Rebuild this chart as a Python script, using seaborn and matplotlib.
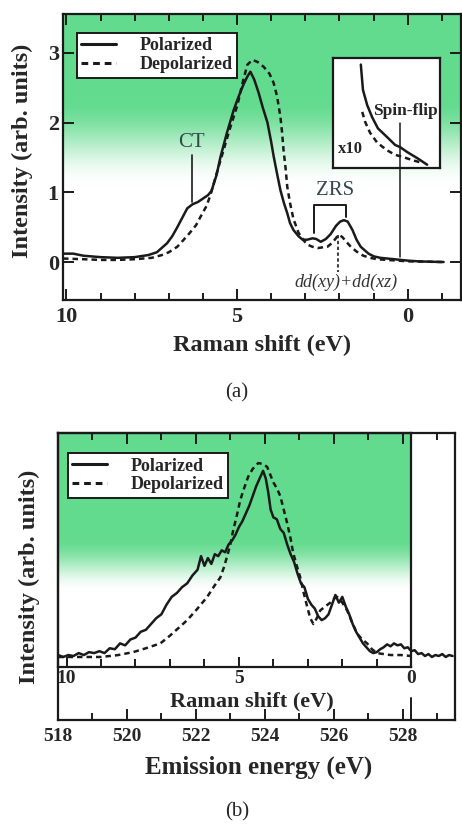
import numpy as np
import pandas as pd
import matplotlib
matplotlib.use("Agg")
import matplotlib.pyplot as plt
import seaborn as sns
from matplotlib.lines import Line2D
from matplotlib.ticker import FixedLocator, MultipleLocator

# ---------------- data ----------------
# Panel (a): Raman shift (eV) vs intensity
a_pol_shift = [10.1, 9.8, 9.5, 9.0, 8.5, 8.0, 7.6, 7.35, 7.05, 6.9, 6.75, 6.6, 6.46, 6.3, 6.15,
               6.0, 5.85, 5.75, 5.6, 5.49, 5.3, 5.1, 4.95, 4.81, 4.7, 4.61, 4.5, 4.37, 4.25, 4.11,
               4.0, 3.93, 3.83, 3.73, 3.63, 3.53, 3.45, 3.35, 3.2, 3.08, 2.95, 2.79, 2.68, 2.55,
               2.4, 2.26, 2.1, 1.98, 1.87, 1.76, 1.62, 1.5, 1.38, 1.15, 0.99, 0.8, 0.6, 0.4, 0.2,
               0.0, -0.3, -0.6, -1.05]
a_pol_int = [0.12, 0.12, 0.09, 0.07, 0.06, 0.07, 0.10, 0.14, 0.27, 0.37, 0.50, 0.64, 0.77, 0.83, 0.86,
             0.91, 0.96, 1.02, 1.25, 1.50, 1.85, 2.18, 2.38, 2.55, 2.66, 2.73, 2.62, 2.43, 2.22, 2.00,
             1.72, 1.52, 1.27, 1.03, 0.85, 0.70, 0.56, 0.46, 0.37, 0.32, 0.32, 0.34, 0.33, 0.29,
             0.33, 0.40, 0.52, 0.58, 0.60, 0.58, 0.46, 0.32, 0.22, 0.12, 0.08, 0.06, 0.05, 0.04, 0.03,
             0.02, 0.01, 0.005, 0.0]
a_dep_shift = [10.1, 9.5, 9.0, 8.5, 8.0, 7.5, 7.2, 7.0, 6.75, 6.6, 6.4, 6.2, 6.07, 5.9, 5.78, 5.6,
               5.4, 5.2, 4.99, 4.85, 4.7, 4.55, 4.4, 4.22, 4.05, 3.93, 3.83, 3.73, 3.68, 3.64, 3.58,
               3.53, 3.45, 3.35, 3.2, 3.05, 2.94, 2.8, 2.64, 2.5, 2.35, 2.2, 2.03, 1.92, 1.8, 1.67,
               1.5, 1.3, 1.1, 0.9, 0.6, 0.3, 0.0, -0.5, -1.0]
a_dep_int = [0.05, 0.04, 0.03, 0.03, 0.04, 0.06, 0.10, 0.14, 0.22, 0.30, 0.41, 0.53, 0.65, 0.80, 0.96, 1.27,
             1.60, 1.93, 2.25, 2.55, 2.83, 2.90, 2.87, 2.80, 2.70, 2.57, 2.38, 2.08, 1.85, 1.61, 1.35,
             1.08, 0.85, 0.62, 0.42, 0.31, 0.25, 0.22, 0.20, 0.21, 0.22, 0.28, 0.39, 0.36, 0.29, 0.22,
             0.15, 0.09, 0.06, 0.04, 0.03, 0.02, 0.01, 0.005, 0.0]

# inset (x10 magnification of the spin-flip region)
inset_pol_shift = [0.61, 0.58, 0.52, 0.45, 0.37, 0.24, 0.13, 0.06, -0.04, -0.18, -0.32]
inset_pol_int = [0.94, 0.71, 0.57, 0.46, 0.36, 0.28, 0.21, 0.19, 0.145, 0.09, 0.03]
inset_dep_shift = [0.59, 0.55, 0.48, 0.38, 0.24, 0.13, 0.02, -0.12, -0.26]
inset_dep_int = [0.51, 0.42, 0.32, 0.23, 0.16, 0.12, 0.10, 0.07, 0.045]

# Panel (b): Raman shift (eV) vs intensity (normalised), incident energy
incident_energy = 528.25
b_pol_shift = [10.25, 10.1, 9.95, 9.8, 9.65, 9.5, 9.35, 9.2, 9.05, 8.9, 8.75, 8.6, 8.45, 8.3, 8.15,
               8.0, 7.85, 7.7, 7.55, 7.4, 7.25, 7.1, 6.95, 6.8, 6.65, 6.5, 6.35, 6.2, 6.1, 6.0,
               5.9, 5.8, 5.7, 5.6, 5.5, 5.4, 5.3, 5.2, 5.1, 5.0, 4.9, 4.8, 4.7, 4.6, 4.5, 4.4,
               4.3, 4.22, 4.15, 4.08, 4.0, 3.9, 3.8, 3.7, 3.6, 3.5, 3.4, 3.3, 3.2, 3.1, 3.0, 2.9,
               2.8, 2.7, 2.6, 2.5, 2.4, 2.3, 2.2, 2.1, 2.0, 1.9, 1.8, 1.7, 1.6, 1.5, 1.4, 1.3,
               1.2, 1.1, 1.0, 0.9, 0.8, 0.7, 0.6, 0.5, 0.4, 0.3, 0.2, 0.1, 0.0, -0.1, -0.2,
               -0.3, -0.4, -0.5, -0.6, -0.7, -0.8, -0.9, -1.0, -1.1, -1.2]
b_pol_int = [0.01, 0.0, 0.01, 0.005, 0.02, 0.01, 0.025, 0.02, 0.03, 0.02, 0.045, 0.04, 0.07, 0.06, 0.09,
             0.10, 0.13, 0.14, 0.17, 0.20, 0.22, 0.27, 0.31, 0.33, 0.36, 0.38, 0.42, 0.45, 0.52, 0.47,
             0.51, 0.48, 0.53, 0.52, 0.55, 0.54, 0.58, 0.60, 0.63, 0.67, 0.70, 0.74, 0.78, 0.83, 0.88, 0.92,
             0.96, 0.92, 0.85, 0.76, 0.72, 0.71, 0.66, 0.64, 0.58, 0.53, 0.49, 0.43, 0.38, 0.36, 0.30, 0.27,
             0.25, 0.21, 0.19, 0.20, 0.22, 0.27, 0.32, 0.28, 0.31, 0.26, 0.22, 0.17, 0.13, 0.10, 0.07, 0.05,
             0.03, 0.02, 0.025, 0.04, 0.05, 0.065, 0.055, 0.07, 0.06, 0.065, 0.045, 0.05, 0.03, 0.035, 0.015,
             0.02, 0.005, 0.015, 0.0, 0.01, 0.005, 0.015, 0.0, 0.01, 0.005]
b_dep_shift = [10.25, 9.5, 9.0, 8.5, 8.07, 7.7, 7.28, 7.0, 6.75, 6.5, 6.2, 5.92, 5.7, 5.54, 5.44,
               5.34, 5.25, 5.17, 5.06, 4.96, 4.85, 4.73, 4.6, 4.44, 4.3, 4.18, 4.09, 4.0, 3.9, 3.8,
               3.7, 3.6, 3.5, 3.43, 3.32, 3.22, 3.12, 3.02, 2.93, 2.84, 2.74, 2.64, 2.5, 2.35, 2.25,
               2.15, 2.0, 1.86, 1.72, 1.57, 1.42, 1.28, 1.14, 0.99, 0.8, 0.6, 0.3, 0.0]
b_dep_int = [0.0, 0.0, 0.0, 0.01, 0.025, 0.045, 0.07, 0.11, 0.15, 0.19, 0.25, 0.31, 0.37, 0.41, 0.46,
             0.52, 0.58, 0.65, 0.73, 0.81, 0.87, 0.93, 0.97, 1.0, 0.995, 0.98, 0.94, 0.90, 0.87, 0.83,
             0.76, 0.69, 0.61, 0.54, 0.47, 0.41, 0.33, 0.26, 0.20, 0.17, 0.20, 0.24, 0.26, 0.28, 0.30,
             0.31, 0.28, 0.24, 0.18, 0.12, 0.09, 0.07, 0.04, 0.02, 0.015, 0.01, 0.01, 0.005]

emission_ticks = [518, 520, 522, 524, 526, 528]
raman_ticks = [10, 5, 0]
intensity_ticks = [0, 1, 2, 3]
series_names = ["Polarized", "Depolarized"]

# ---------------- style ----------------
sns.set_theme(style="white")
plt.rcParams["font.family"] = ["Liberation Serif", "DejaVu Serif"]
plt.rcParams["font.weight"] = "bold"
plt.rcParams["axes.labelweight"] = "bold"

W, H = 462, 825
fig = plt.figure(figsize=(W / 100, H / 100), dpi=100)
fig.patch.set_facecolor("white")

def px_rect(x0, y0, x1, y1):
    return [x0 / W, 1 - y1 / H, (x1 - x0) / W, (y1 - y0) / H]

GREEN = np.array([0.39, 0.86, 0.56])

def gradient(f_start, f_end, n=300):
    f = np.linspace(0, 1, n)
    s = np.clip((f_end - f) / (f_end - f_start), 0, 1)
    s = s * s * (3 - 2 * s)
    img = (1 - s)[:, None] * np.ones(3) + s[:, None] * GREEN
    return img[:, None, :]

DASH = (0, (2.2, 1.6))
LW = 1.8
SP = 1.6

# ================= panel (a) =================
ax = fig.add_axes(px_rect(63, 14, 461, 300))
xl, xr, yb, yt = 10.10, -1.56, -0.545, 3.558
ax.imshow(gradient(0.30, 0.60), extent=[xl, xr, yb, yt], aspect="auto",
          zorder=0, interpolation="bilinear")
dfa_p = pd.DataFrame({"shift": a_pol_shift, "I": a_pol_int})
dfa_d = pd.DataFrame({"shift": a_dep_shift, "I": a_dep_int})
sns.lineplot(data=dfa_p, x="shift", y="I", ax=ax, color="k", lw=LW, sort=False, estimator=None, zorder=3)
sns.lineplot(data=dfa_d, x="shift", y="I", ax=ax, color="k", lw=LW, linestyle=DASH, sort=False,
             estimator=None, zorder=3)
ax.set_xlim(xl, xr)
ax.set_ylim(yb, yt)
ax.xaxis.set_major_locator(FixedLocator(raman_ticks))
ax.xaxis.set_minor_locator(MultipleLocator(1))
ax.yaxis.set_major_locator(FixedLocator(intensity_ticks))
ax.tick_params(which="both", direction="in", top=True, right=True, bottom=True, left=True,
               width=1.4, color="k")
ax.tick_params(which="major", length=8, labelsize=16, pad=5)
ax.tick_params(which="minor", length=5)
ax.tick_params(axis="y", which="major", pad=3)
for s in ax.spines.values():
    s.set_linewidth(SP)
    s.set_color("k")
ax.set_xlabel("Raman shift (eV)", fontsize=17.5, va="top")
ax.set_ylabel("Intensity (arb. units)", fontsize=17.5, va="bottom")
ax.xaxis.set_label_coords(0.5, -0.122)
ax.yaxis.set_label_coords(-0.076, 0.52)

handles = [Line2D([], [], color="k", lw=2.2), Line2D([], [], color="k", lw=2.2, ls=DASH)]
leg = ax.legend(handles, series_names, loc="upper left", bbox_to_anchor=(0.035, 0.934),
                borderaxespad=0, frameon=True, fancybox=False, framealpha=1, edgecolor="k",
                prop={"size": 13, "weight": "bold"}, handlelength=1.9, handletextpad=1.3,
                labelspacing=0.1, borderpad=0.25)
leg.get_frame().set_linewidth(1.4)

ANN = "#34474a"
ax.plot([6.32, 6.32], [1.54, 0.86], color="k", lw=1.2, zorder=4)
ax.text(6.34, 1.72, "CT", fontsize=15, fontweight="normal", color=ANN, ha="center", va="center")
ax.plot([2.76, 2.76, 1.82, 1.82], [0.42, 0.82, 0.82, 0.64], color="k", lw=1.4, zorder=4)
ax.text(2.12, 1.03, "ZRS", fontsize=15, fontweight="normal", color=ANN, ha="center", va="center")
ax.plot([2.03, 2.03], [0.39, -0.14], color="k", lw=1.2, ls=(0, (2, 1.5)), zorder=4)
ax.text(1.82, -0.29, "dd(xy)+dd(xz)", fontsize=13, fontweight="normal", style="italic",
        color="#333", ha="center", va="center")

# inset
axin = fig.add_axes(px_rect(333, 58, 440, 168))
axin.set_facecolor("white")
sns.lineplot(x=inset_pol_shift, y=inset_pol_int, ax=axin, color="k", lw=LW, sort=False, estimator=None)
sns.lineplot(x=inset_dep_shift, y=inset_dep_int, ax=axin, color="k", lw=LW, linestyle=DASH,
             sort=False, estimator=None)
axin.set_xlim(1.0, -0.5)
axin.set_ylim(0, 1.0)
axin.set_xticks([])
axin.set_yticks([])
axin.set_xlabel("")
axin.set_ylabel("")
for s in axin.spines.values():
    s.set_linewidth(SP)
    s.set_color("k")
axin.text(0.05, 0.17, "x10", transform=axin.transAxes, fontsize=12, ha="left", va="center")
axin.text(0.37, 0.52, "Spin-flip", transform=axin.transAxes, fontsize=12.5, ha="left",
          va="center", clip_on=True)
fig.add_artist(Line2D([0.235, 0.235], [2.0, 0.07], transform=ax.transData, color="k",
                      lw=1.1, zorder=10))

fig.text(237 / W, 1 - 393 / H, "(a)", fontsize=15, fontweight="normal", ha="center", va="center")

# ================= panel (b) =================
axi = fig.add_axes(px_rect(58, 433, 411, 667))
axo = fig.add_axes(px_rect(58, 433, 455, 720))
axi.set_zorder(1)
axo.set_zorder(2)
axo.patch.set_visible(False)

ri_l, ri_r = 10.25, 0.0
axi.imshow(gradient(0.45, 0.68), extent=[ri_l, ri_r, 0, 1], aspect="auto",
           interpolation="bilinear", zorder=0)
axi.set_xlim(ri_l, ri_r)
axi.set_ylim(0, 1)
axi.set_yticks([])
axi.xaxis.set_major_locator(FixedLocator(raman_ticks))
axi.xaxis.set_minor_locator(MultipleLocator(1))
axi.tick_params(which="both", direction="in", bottom=True, top=False, left=False, right=False,
                width=1.4, color="k")
axi.tick_params(which="major", length=7, labelsize=14, pad=2)
axi.tick_params(which="minor", length=6)
for s in axi.spines.values():
    s.set_linewidth(SP)
    s.set_color("k")
axi.set_xlabel("Raman shift (eV)", fontsize=16, va="top")
axi.xaxis.set_label_coords(0.55, -0.105)

dfb_p = pd.DataFrame({"E": [incident_energy - r for r in b_pol_shift], "I": b_pol_int})
dfb_d = pd.DataFrame({"E": [incident_energy - r for r in b_dep_shift], "I": b_dep_int})
sns.lineplot(data=dfb_p, x="E", y="I", ax=axo, color="k", lw=LW, sort=False, estimator=None)
sns.lineplot(data=dfb_d, x="E", y="I", ax=axo, color="k", lw=LW, linestyle=DASH, sort=False,
             estimator=None)
axo.set_xlim(518.0, 529.52)
axo.set_ylim(-0.325, 1.155)
axo.xaxis.set_major_locator(FixedLocator(emission_ticks))
axo.xaxis.set_minor_locator(MultipleLocator(1))
axo.set_yticks([])
axo.tick_params(which="both", direction="in", top=True, bottom=True, left=False, right=False,
                width=1.4, color="k")
axo.tick_params(which="major", length=8, labelsize=14, pad=6)
axo.tick_params(which="minor", length=5)
for s in axo.spines.values():
    s.set_linewidth(SP)
    s.set_color("k")
axo.axvline(incident_energy, ymin=0, ymax=0.077, color="k", lw=1.4)
axo.set_xlabel("Emission energy (eV)", fontsize=18, va="top")
axo.set_ylabel("Intensity (arb. units)", fontsize=17.5, va="bottom")
axo.xaxis.set_label_coords(0.505, -0.125)
axo.yaxis.set_label_coords(-0.045, 0.5)

leg2 = axo.legend(handles, series_names, loc="upper left", bbox_to_anchor=(0.025, 0.93),
                  borderaxespad=0, frameon=True, fancybox=False, framealpha=1, edgecolor="k",
                  prop={"size": 13, "weight": "bold"}, handlelength=1.9, handletextpad=1.3,
                  labelspacing=0.1, borderpad=0.25)
leg2.get_frame().set_linewidth(1.4)

fig.text(237 / W, 1 - 812 / H, "(b)", fontsize=15, fontweight="normal", ha="center", va="center")

fig.savefig("out.png", dpi=100, facecolor="white")
